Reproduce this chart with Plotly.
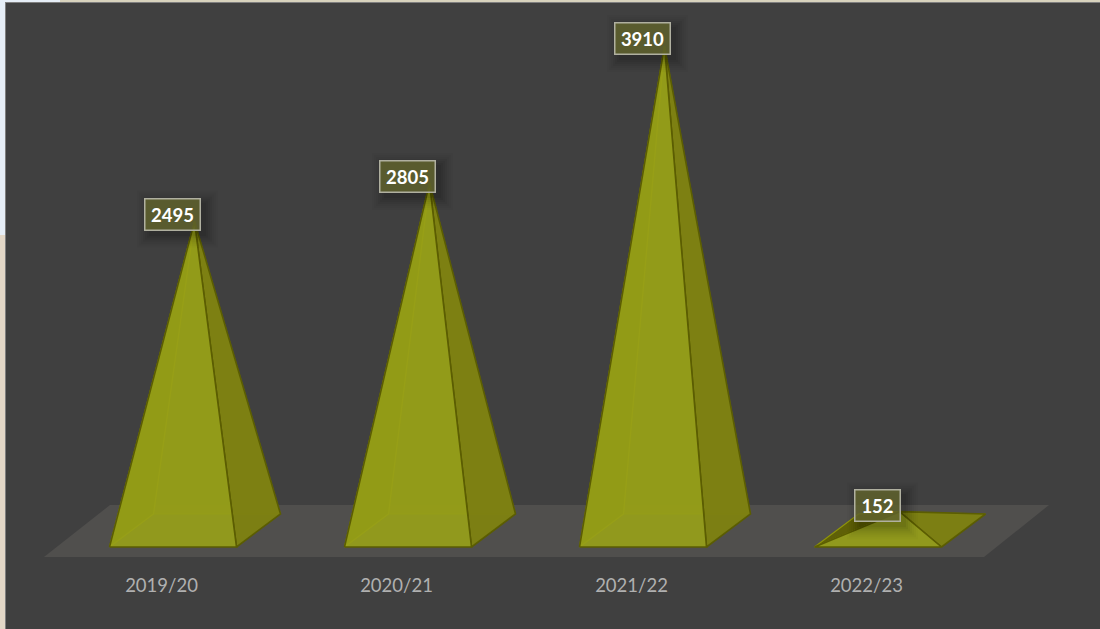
import plotly.graph_objects as go

categories = ["2019/20", "2020/21", "2021/22", "2022/23"]
values = [2495, 2805, 3910, 152]
label_yshift = [7, 6.5, 7.5, 6]
label_width = [52, 52, 52, 42]

W, H = 1100, 629
BOTTOM = 58
PX_PER_CAT = 235.0
PX_PER_VAL = 0.1239
X0_PX = 161.5
Y0_PX = 530.5
PLOT_H = H - BOTTOM

def ux(px):
    return px / PX_PER_CAT

def uy(px):
    return px / PX_PER_VAL

x_range = [-X0_PX / PX_PER_CAT, (W - X0_PX) / PX_PER_CAT]
y_range = [-(PLOT_H - Y0_PX) / PX_PER_VAL, Y0_PX / PX_PER_VAL]

# base of a pyramid relative to its category position
cx = ux(33.5)
FL = (ux(-85.5), uy(-16.5))
FR = (ux(41.5), uy(-16.5))
BR = (ux(85.5), uy(16.5))
BL = (ux(-41.5), uy(16.5))

EDGE = "#5b5d02"
fig = go.Figure()

def face(xs, ys, fill, line=EDGE, w=1.6):
    fig.add_trace(go.Scatter(x=xs, y=ys, mode="lines", fill="toself", fillcolor=fill,
                             line=dict(color=line, width=w), hoverinfo="skip", showlegend=False))

# floor
floor_x = [ux(44 - X0_PX), ux(984 - X0_PX), ux(1049 - X0_PX), ux(110 - X0_PX), ux(44 - X0_PX)]
floor_y = [uy(Y0_PX - 557), uy(Y0_PX - 557), uy(Y0_PX - 505), uy(Y0_PX - 505), uy(Y0_PX - 557)]
fig.add_trace(go.Scatter(x=floor_x, y=floor_y, mode="lines", fill="toself", fillcolor="#504f4d",
                         line=dict(width=0, color="#504f4d"), hoverinfo="skip", showlegend=False))

for i, v in enumerate(values):
    c = i + cx
    ax = c - ux(0.5)
    # back and left faces
    face([c + BL[0], c + BR[0], ax, c + BL[0]], [BL[1], BR[1], v, BL[1]], "rgba(120,122,10,0.55)", "rgba(125,128,5,0.7)", 1)
    face([c + FL[0], c + BL[0], ax, c + FL[0]], [FL[1], BL[1], v, FL[1]], "#5f6007", "#8f9508", 1.2)
    # right face
    face([c + FR[0], c + BR[0], ax, c + FR[0]], [FR[1], BR[1], v, FR[1]], "rgba(126,129,18,0.97)")
    # front face
    face([c + FL[0], c + FR[0], ax, c + FL[0]], [FL[1], FR[1], v, FL[1]], "rgba(152,160,24,0.91)")

shapes = []

# picture showing around the panel
def paper_rect(x0, y0, x1, y1, color):
    shapes.append(dict(type="rect", xref="paper", yref="paper", layer="above",
                       x0=x0 / W, x1=x1 / W,
                       y0=(PLOT_H - y0) / PLOT_H, y1=(PLOT_H - y1) / PLOT_H,
                       fillcolor=color, line=dict(width=0)))

paper_rect(0, 0, 5, 235, "#e6eef7")
paper_rect(0, 235, 5, 629, "#e3d7c7")
paper_rect(0, 0, 60, 2, "#e6eef7")
paper_rect(60, 0, 1100, 2, "#d8d3bd")
paper_rect(5, 2, 6, 629, "#7f7f7f")
paper_rect(5, 2, 1100, 3, "#7f7f7f")

annotations = []
for i, v in enumerate(values):
    c = i + ux(11)
    bw = label_width[i] + 5
    ys = label_yshift[i]
    for grow, alpha in [(12, .018), (10, .022), (8, .028), (6, .034), (4, .04), (2, .05), (0, .06)]:
        shapes.append(dict(type="rect", xref="x", yref="y", layer="above",
                           xsizemode="pixel", ysizemode="pixel", xanchor=c, yanchor=v,
                           x0=-bw / 2 - grow + 5, x1=bw / 2 + grow + 5,
                           y0=ys - 16.5 - grow - 5, y1=ys + 16.5 + grow - 5,
                           fillcolor=f"rgba(0,0,0,{alpha})", line=dict(width=0)))
    annotations.append(dict(x=c, y=v, xref="x", yref="y", text=f"<b>{v}</b>", showarrow=False,
                            yshift=ys, width=label_width[i], height=28, borderpad=1,
                            font=dict(family="Lato", size=18.5, color="#ffffff"),
                            bgcolor="rgba(100,102,46,0.8)", bordercolor="#b0b0a0", borderwidth=1.5))

fig.update_layout(
    width=W, height=H, autosize=False,
    margin=dict(l=0, r=0, t=0, b=BOTTOM),
    paper_bgcolor="#404040", plot_bgcolor="#404040",
    showlegend=False,
    xaxis=dict(range=x_range, tickmode="array", tickvals=list(range(len(categories))), ticktext=categories,
               showgrid=False, zeroline=False, showline=False, ticks="", ticklabelstandoff=1,
               tickfont=dict(family="Lato", size=18.5, color="#b0b0b0"), fixedrange=True),
    yaxis=dict(range=y_range, visible=False, showgrid=False, zeroline=False, fixedrange=True),
    shapes=shapes,
    annotations=annotations,
)

fig.write_html("out.html", config=dict(displayModeBar=False),
               post_script="document.body.style.margin='0';document.body.style.background='#404040';",
               default_width=W, default_height=H)
